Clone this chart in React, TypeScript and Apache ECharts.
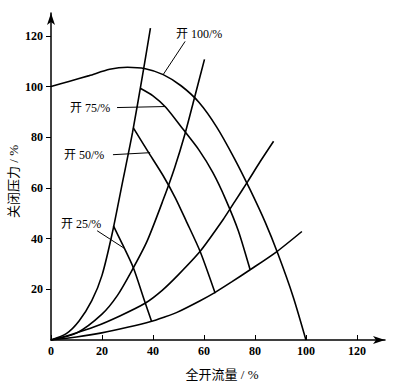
import React, { useEffect, useRef } from "react";
import * as echarts from "echarts";

// Valve-opening pressure curves [flow %, pressure %]
const open100: number[][] = [[0,100],[7,102],[15,104.3],[23,106.8],[30,107.6],[37,107],[44,104.7],[51,100.3],[58,93.8],[65,84],[72,71.5],[78,59.5],[84,46.5],[89,34],[95,17],[100,0]];
const open75: number[][] = [[35,99.3],[40,96.3],[45,91.8],[51.5,83.5],[58,75],[63.5,66],[68.5,55.5],[73.5,43],[78.1,27.7]];
const open50: number[][] = [[32.3,83.7],[38,74.4],[44,64.8],[48.8,56],[53,47],[58.5,34.9],[64.4,18.4]];
const open25: number[][] = [[24.5,45],[28,37.8],[32.3,28.5],[36.5,16],[39.5,7.2]];

// System (resistance) curves
const sys1: number[][] = [[0,0],[6,2.5],[11,7.5],[16,15.5],[20,25.5],[24,42],[28,62],[32,82],[36,105],[39,123]];
const sys2: number[][] = [[0,0],[10,2.7],[20,10.2],[26,17.5],[31.5,27],[37.6,38.8],[44,55.3],[48.5,68],[52.6,81.5],[56,94.5],[60.2,110.7]];
const sys3: number[][] = [[0,0],[8,2.2],[17.3,5.3],[27,9.5],[36.9,14.5],[43.5,19.5],[50,25.8],[58.5,35],[67.7,47.8],[72.2,54.8],[77.2,62.6],[82,70.3],[87.3,78.4]];
const sys4: number[][] = [[0,0],[10,1.2],[19.9,2.8],[30,5],[39.5,7.4],[44,8.9],[49.4,10.9],[58.5,15.5],[64.4,18.8],[71,23],[78.1,27.7],[88.6,34.9],[98.4,42.8]];

// Annotation leaders
const leader100: number[][] = [[52.6,117.8],[44,104.7]];
const leader75: number[][] = [[25.9,91.7],[44.8,92.1]];
const leader50: number[][] = [[24.3,73.1],[38.9,73.9]];
const leader25: number[][] = [[18.1,43.1],[29,36]];

const annotationTexts = ["开 100/%", "开 75/%", "开 50/%", "开 25/%"];

const xTicks = [0, 20, 40, 60, 80, 100, 120];
const yTicks = [20, 40, 60, 80, 100, 120];

const xName = "全开流量 / %";
const yName = "关闭压力 / %";

const FONT = '"Liberation Serif", "Noto Sans CJK SC", serif';

export default function App() {
  const ref = useRef<HTMLDivElement>(null);
  useEffect(() => {
    if (!ref.current) return;
    const chart = echarts.init(ref.current, undefined, { renderer: "svg" });
    const curve = (data: number[][], width = 1.6) => ({
      type: "line",
      data,
      smooth: 0.25,
      showSymbol: false,
      silent: true,
      lineStyle: { color: "#000", width },
    });
    const labelPos = [
      [176, 34],
      [70, 108],
      [64, 155],
      [61, 224],
    ];
    chart.setOption({
      animation: false,
      backgroundColor: "#fff",
      grid: { left: 51, right: 16, top: 13, bottom: 48, outerBoundsMode: "none", containLabel: false },
      xAxis: {
        type: "value",
        min: 0,
        max: 131,
        name: xName,
        nameLocation: "middle",
        nameGap: 28,
        nameMoveOverlap: false,
        nameTextStyle: { fontFamily: FONT, fontSize: 13, color: "#000", padding: [0, 0, 0, 8] },
        splitLine: { show: false },
        axisLine: {
          lineStyle: { color: "#000", width: 1.5 },
          symbol: ["none", "arrow"],
          symbolSize: [6, 12],
        },
        axisTick: { inside: true, length: 5, customValues: xTicks, lineStyle: { color: "#000", width: 1 } },
        axisLabel: {
          customValues: xTicks,
          margin: 5,
          fontFamily: FONT,
          fontSize: 12,
          fontWeight: "bold",
          color: "#000",
        },
      },
      yAxis: {
        type: "value",
        min: 0,
        max: 129,
        name: yName,
        nameLocation: "middle",
        nameGap: 31,
        nameMoveOverlap: false,
        nameRotate: 90,
        nameTextStyle: { fontFamily: FONT, fontSize: 13, color: "#000", padding: [0, 10, 0, 0] },
        splitLine: { show: false },
        axisLine: {
          lineStyle: { color: "#000", width: 1.5 },
          symbol: ["none", "arrow"],
          symbolSize: [6, 12],
        },
        axisTick: { inside: false, length: 5, customValues: yTicks, lineStyle: { color: "#000", width: 1 } },
        axisLabel: {
          customValues: yTicks,
          margin: 8,
          fontFamily: FONT,
          fontSize: 12,
          fontWeight: "bold",
          color: "#000",
        },
      },
      series: [
        curve(open100),
        curve(open75),
        curve(open50),
        curve(open25),
        curve(sys1),
        curve(sys2),
        curve(sys3),
        curve(sys4),
        { ...curve(leader100, 1), smooth: false },
        { ...curve(leader75, 1), smooth: false },
        { ...curve(leader50, 1), smooth: false },
        { ...curve(leader25, 1), smooth: false },
      ],
      graphic: annotationTexts.map((t, i) => ({
        type: "text",
        x: labelPos[i][0],
        y: labelPos[i][1],
        silent: true,
        style: {
          text: t,
          fill: "#000",
          font: `12px ${FONT}`,
          textAlign: "left",
          textVerticalAlign: "middle",
        },
      })),
    });
    return () => chart.dispose();
  }, []);
  return (
    <div
      ref={ref}
      style={{ position: "fixed", left: 0, top: 0, width: 401, height: 388, background: "#fff" }}
    />
  );
}
